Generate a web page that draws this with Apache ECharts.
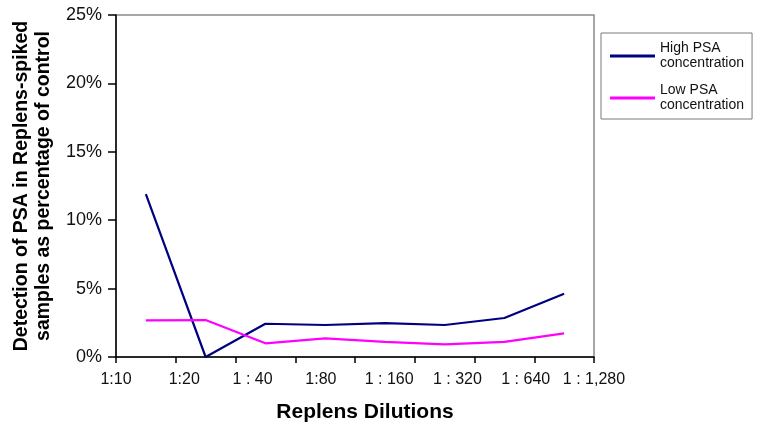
<!DOCTYPE html>
<html>
<head>
<meta charset="utf-8">
<script src="https://cdn.jsdelivr.net/npm/echarts@6/dist/echarts.min.js"></script>
<style>
html,body{margin:0;padding:0;background:#fff;}
#chart{width:763px;height:430px;}
</style>
</head>
<body>
<div id="chart"></div>
<script>
// dilution categories (x axis)
var dilutions = ['1:10', '1:20', '1 : 40', '1:80', '1 : 160', '1 : 320', '1 : 640', '1 : 1,280'];
// detection as % of control
var highPSA = [11.9, 0, 2.43, 2.34, 2.47, 2.34, 2.85, 4.63];
var lowPSA = [2.68, 2.7, 1.0, 1.36, 1.1, 0.92, 1.1, 1.73];
var seriesNames = ['High PSA\nconcentration', 'Low PSA\nconcentration'];

var font = 'Liberation Sans, Arial, Helvetica, sans-serif';
var chart = echarts.init(document.getElementById('chart'));

var option = {
	animation: false,
	backgroundColor: '#fff',
	textStyle: {fontFamily: font},
	grid: {
		left: 116, top: 15, right: 169, bottom: 73,
		show: true,
		borderColor: '#8a8a8a',
		borderWidth: 1.5
	},
	legend: {
		orient: 'vertical',
		left: 601, top: 33,
		padding: [8, 8, 6, 9],
		backgroundColor: '#fff',
		borderColor: '#7a7a7a',
		borderWidth: 1,
		icon: 'rect',
		itemWidth: 45,
		itemHeight: 3,
		itemGap: 12,
		textStyle: {fontFamily: font, fontSize: 14, lineHeight: 15, color: '#111'},
		data: seriesNames
	},
	xAxis: [
		{
			// data axis: points sit between ticks
			type: 'category',
			data: dilutions,
			boundaryGap: true,
			position: 'bottom',
			axisLine: {lineStyle: {color: '#000', width: 1.5}},
			axisTick: {show: true, interval: 0, inside: false, length: 6, lineStyle: {color: '#000', width: 1.5}},
			axisLabel: {show: false},
			splitLine: {show: false},
			name: 'Replens Dilutions',
			nameLocation: 'middle',
			nameGap: 45,
			nameTextStyle: {fontFamily: font, fontSize: 21, fontWeight: 'bold', color: '#000', padding: [0, 0, 0, 20]}
		},
		{
			// label axis: labels spread edge to edge
			type: 'category',
			data: dilutions,
			boundaryGap: false,
			position: 'bottom',
			axisLine: {show: false},
			axisTick: {show: false},
			splitLine: {show: false},
			axisLabel: {show: true, interval: 0, margin: 15, fontFamily: font, fontSize: 16, color: '#111'}
		}
	],
	yAxis: {
		type: 'value',
		min: 0, max: 25, interval: 5,
		axisLine: {show: true, lineStyle: {color: '#000', width: 1.5}},
		axisTick: {show: true, inside: false, length: 8, lineStyle: {color: '#000', width: 1.5}},
		axisLabel: {formatter: '{value}%', margin: 14, fontFamily: font, fontSize: 18, color: '#111'},
		splitLine: {show: false},
		name: 'Detection of PSA in Replens-spiked\nsamples as percentage of control',
		nameLocation: 'middle',
		nameRotate: 90,
		nameGap: 56,
		nameTextStyle: {fontFamily: font, fontSize: 19.5, fontWeight: 'bold', color: '#000', lineHeight: 22}
	},
	series: [
		{
			name: seriesNames[0],
			type: 'line',
			xAxisIndex: 0,
			data: highPSA,
			symbol: 'none',
			color: '#000080',
			lineStyle: {color: '#000080', width: 2.2}
		},
		{
			name: seriesNames[1],
			type: 'line',
			xAxisIndex: 0,
			data: lowPSA,
			symbol: 'none',
			color: '#ff00ff',
			lineStyle: {color: '#ff00ff', width: 2.2}
		}
	]
};

chart.setOption(option);
</script>
</body>
</html>
